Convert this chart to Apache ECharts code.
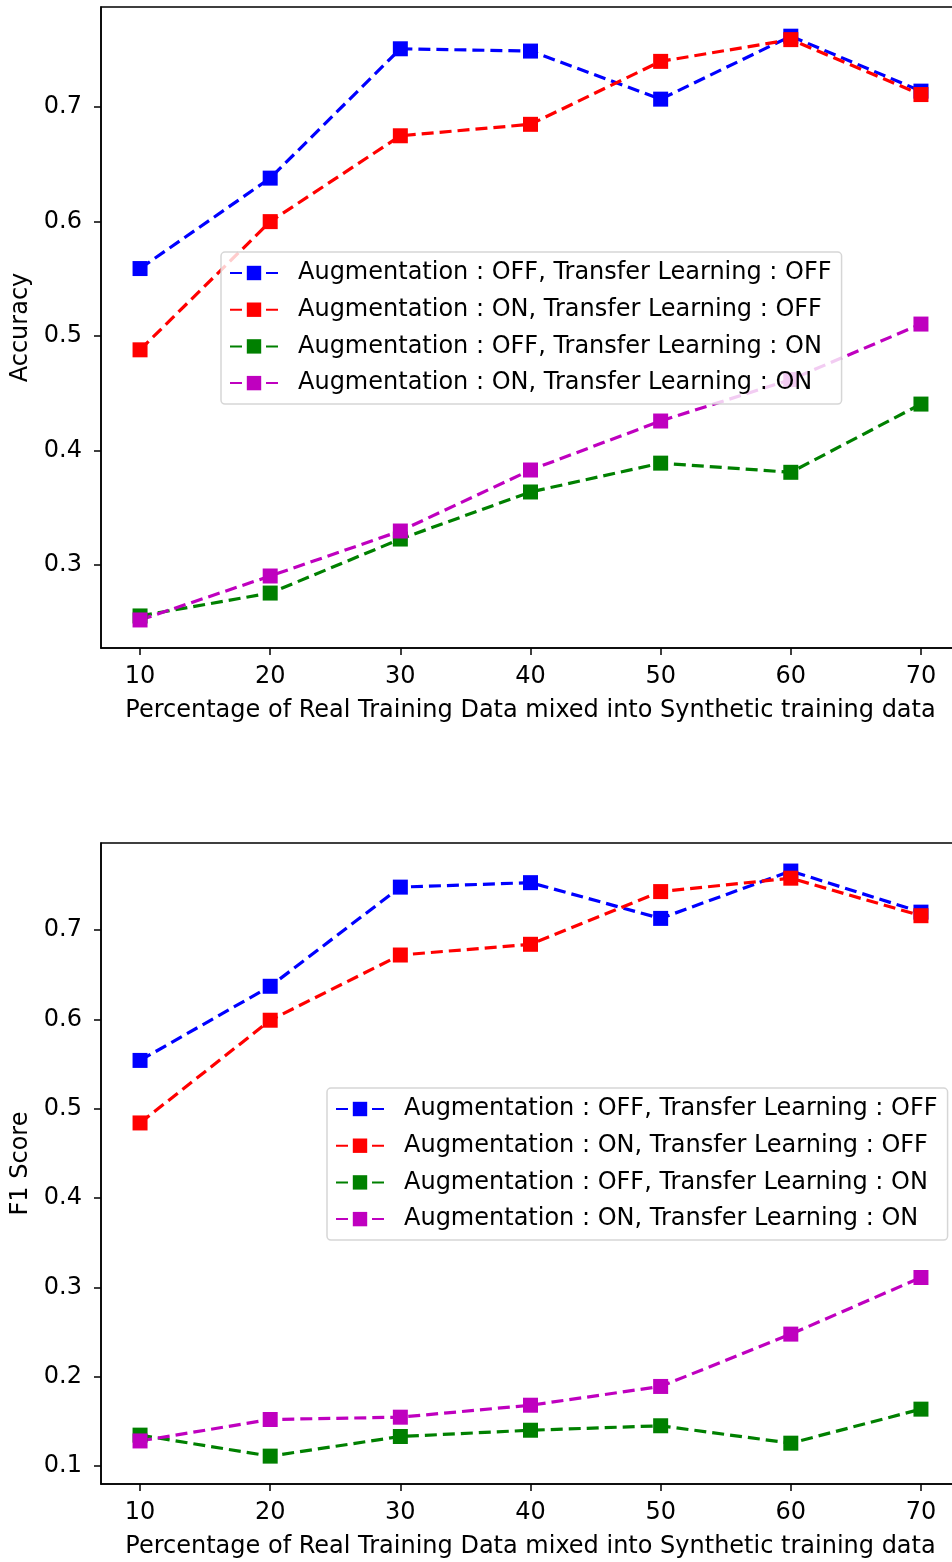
<!DOCTYPE html>
<html>
<head>
<meta charset="utf-8">
<script src="https://cdn.jsdelivr.net/npm/echarts@6/dist/echarts.min.js"></script>
<style>
html,body{margin:0;padding:0;background:#fff;}
#c{width:952px;height:1562px;}
</style>
</head>
<body>
<div id="c"></div>
<script>
const xValues = [10, 20, 30, 40, 50, 60, 70];
const seriesNames = [
  'Augmentation : OFF, Transfer Learning : OFF',
  'Augmentation : ON, Transfer Learning : OFF',
  'Augmentation : OFF, Transfer Learning : ON',
  'Augmentation : ON, Transfer Learning : ON'
];
const accBlue    = [0.559, 0.638, 0.751, 0.749, 0.707, 0.762, 0.714];
const accRed     = [0.488, 0.600, 0.675, 0.685, 0.740, 0.759, 0.711];
const accGreen   = [0.2555, 0.2755, 0.3227, 0.3638, 0.389, 0.381, 0.4406];
const accMagenta = [0.252, 0.2904, 0.3297, 0.383, 0.4258, 0.462, 0.5105];
const f1Blue     = [0.554, 0.637, 0.748, 0.753, 0.713, 0.766, 0.720];
const f1Red      = [0.484, 0.599, 0.672, 0.684, 0.743, 0.758, 0.716];
const f1Green    = [0.1345, 0.111, 0.133, 0.140, 0.145, 0.1255, 0.1636];
const f1Magenta  = [0.128, 0.152, 0.1546, 0.168, 0.189, 0.2476, 0.311];
const xTicks = [10, 20, 30, 40, 50, 60, 70];
const accTicks = [0.3, 0.4, 0.5, 0.6, 0.7];
const f1Ticks = [0.1, 0.2, 0.3, 0.4, 0.5, 0.6, 0.7];
const colors = ['#0000ff', '#ff0000', '#008000', '#bf00bf'];

const FONT = 'DejaVu Sans';
const FS = 24;

function pairs(ys) { return xValues.map((x, i) => [x, ys[i]]); }

function mkSeries(name, ys, color, idx) {
  return {
    name: name, type: 'line', xAxisIndex: idx, yAxisIndex: idx,
    data: pairs(ys), symbol: 'rect', symbolSize: 15,
    color: color,
    itemStyle: { color: color },
    lineStyle: { color: color, width: 3.2, type: [12, 6] },
    emphasis: { disabled: true },
    animation: false
  };
}

function mkX(idx) {
  return {
    type: 'value', gridIndex: idx, min: 7, max: 73,
    name: 'Percentage of Real Training Data mixed into Synthetic training data',
    nameLocation: 'middle', nameGap: 51,
    nameTextStyle: { fontFamily: FONT, fontSize: FS, color: '#000' },
    axisLine: { show: true, lineStyle: { color: '#000', width: 1.5 } },
    axisTick: { show: true, inside: false, length: 7, lineStyle: { color: '#000', width: 1.5 }, customValues: xTicks },
    axisLabel: { fontFamily: FONT, fontSize: FS, color: '#000', margin: 17, customValues: xTicks },
    splitLine: { show: false }
  };
}

function mkY(idx, name, min, max, ticks) {
  return {
    type: 'value', gridIndex: idx, min: min, max: max,
    name: name, nameLocation: 'middle', nameGap: 64, nameRotate: 90,
    nameTextStyle: { fontFamily: FONT, fontSize: FS, color: '#000' },
    axisLine: { show: true, lineStyle: { color: '#000', width: 1.5 } },
    axisTick: { show: true, inside: false, length: 7, lineStyle: { color: '#000', width: 1.5 }, customValues: ticks },
    axisLabel: { fontFamily: FONT, fontSize: FS, color: '#000', margin: 19, customValues: ticks,
      formatter: v => v.toFixed(1) },
    splitLine: { show: false }
  };
}

function mkLegend(left, top) {
  return {
    orient: 'vertical', left: left, top: top,
    data: seriesNames,
    itemWidth: 48, itemHeight: 18, itemGap: 10.7,
    padding: [8, 10, 8, 8],
    backgroundColor: 'rgba(255,255,255,0.8)',
    borderColor: 'rgba(204,204,204,0.8)', borderWidth: 1.5, borderRadius: 4,
    textStyle: { fontFamily: FONT, fontSize: FS, color: '#000', lineHeight: 26, padding: [0, 0, 0, 15] },
    selectedMode: false
  };
}

const chart = echarts.init(document.getElementById('c'), null, { renderer: 'canvas' });
chart.setOption({
  animation: false,
  backgroundColor: '#fff',
  textStyle: { fontFamily: FONT },
  grid: [
    { left: 101, top: 7, width: 859, height: 641, show: true, borderColor: '#000', borderWidth: 1.5, backgroundColor: 'transparent', outerBoundsMode: 'none', containLabel: false },
    { left: 101, top: 843, width: 859, height: 641, show: true, borderColor: '#000', borderWidth: 1.5, backgroundColor: 'transparent', outerBoundsMode: 'none', containLabel: false }
  ],
  xAxis: [mkX(0), mkX(1)],
  yAxis: [mkY(0, 'Accuracy', 0.2275, 0.7875, accTicks), mkY(1, 'F1 Score', 0.0798, 0.7974, f1Ticks)],
  legend: [mkLegend(221, 252), mkLegend(327, 1088)],
  series: [
    mkSeries(seriesNames[0], accBlue, colors[0], 0),
    mkSeries(seriesNames[1], accRed, colors[1], 0),
    mkSeries(seriesNames[2], accGreen, colors[2], 0),
    mkSeries(seriesNames[3], accMagenta, colors[3], 0),
    mkSeries(seriesNames[0], f1Blue, colors[0], 1),
    mkSeries(seriesNames[1], f1Red, colors[1], 1),
    mkSeries(seriesNames[2], f1Green, colors[2], 1),
    mkSeries(seriesNames[3], f1Magenta, colors[3], 1)
  ]
});
</script>
</body>
</html>
